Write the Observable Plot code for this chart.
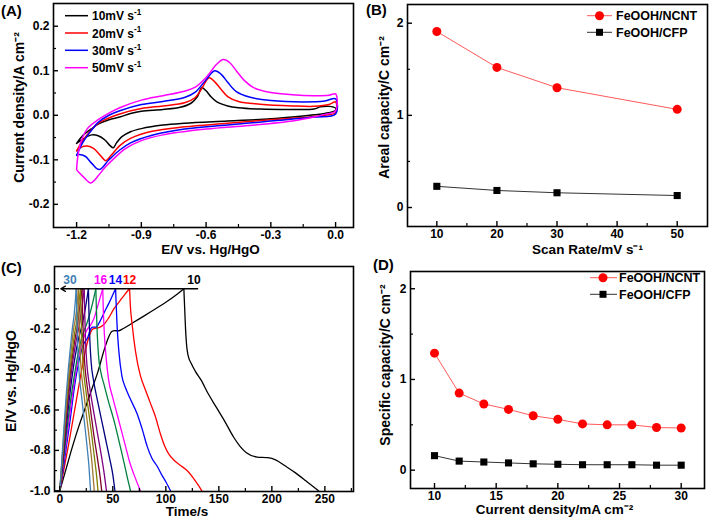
<!DOCTYPE html>
<html><head><meta charset="utf-8">
<script src="https://cdn.jsdelivr.net/npm/d3@7"></script>
<script src="https://cdn.jsdelivr.net/npm/@observablehq/plot@0.6"></script>
<style>
body{margin:0;background:#fff;}
#wrap{position:relative;width:709px;height:522px;overflow:hidden;font-family:"Liberation Sans",Arial,Helvetica,sans-serif;color:#000;}
.panel{position:absolute;}
#overlay{position:absolute;left:0;top:0;pointer-events:none;}
</style></head><body>
<div id="wrap">
  <div class="panel" id="pA" style="left:0;top:0;width:354px;height:261px"></div>
  <div class="panel" id="pB" style="left:354px;top:0;width:355px;height:261px"></div>
  <div class="panel" id="pC" style="left:0;top:261px;width:354px;height:261px"></div>
  <div class="panel" id="pD" style="left:354px;top:261px;width:355px;height:261px"></div>
  <svg id="overlay" width="709" height="522"></svg>
</div>
<script>
// ---------------- DATA ----------------
// (A) CV loops: [E (V), j (A cm-2)], upper (anodic) branch then lower (cathodic) branch
const cv10 = [[-1.2,-0.063],[-1.17,-0.045],[-1.13,-0.03],[-1.1,-0.02],[-1.05,-0.01],[-1.0,-0.004],[-0.95,0.004],[-0.9,0.009],[-0.8,0.013],[-0.72,0.018],[-0.67,0.027],[-0.64,0.042],[-0.62,0.062],[-0.6,0.055],[-0.58,0.043],[-0.55,0.03],[-0.5,0.021],[-0.45,0.017],[-0.35,0.014],[-0.2,0.013],[-0.1,0.014],[-0.07,0.019],[-0.03,0.02],[0,0.016],
  [0,0.011],[-0.05,0.004],[-0.1,0.001],[-0.2,-0.004],[-0.3,-0.008],[-0.5,-0.013],[-0.7,-0.018],[-0.8,-0.022],[-0.9,-0.03],[-0.95,-0.037],[-0.99,-0.048],[-1.015,-0.062],[-1.03,-0.073],[-1.045,-0.068],[-1.07,-0.055],[-1.1,-0.046],[-1.13,-0.044],[-1.16,-0.05],[-1.2,-0.063]];
const cv20 = [[-1.2,-0.08],[-1.17,-0.056],[-1.13,-0.032],[-1.1,-0.018],[-1.05,-0.006],[-1.0,0.003],[-0.9,0.015],[-0.8,0.021],[-0.7,0.028],[-0.65,0.04],[-0.62,0.06],[-0.6,0.077],[-0.585,0.084],[-0.56,0.075],[-0.53,0.058],[-0.5,0.042],[-0.45,0.031],[-0.35,0.025],[-0.2,0.021],[-0.1,0.02],[-0.03,0.024],[0,0.03],
  [0,0.006],[-0.05,0.0],[-0.15,-0.005],[-0.3,-0.01],[-0.5,-0.018],[-0.7,-0.026],[-0.85,-0.036],[-0.95,-0.052],[-1.0,-0.068],[-1.04,-0.09],[-1.065,-0.102],[-1.09,-0.09],[-1.12,-0.075],[-1.15,-0.069],[-1.18,-0.072],[-1.2,-0.08]];
const cv30 = [[-1.2,-0.09],[-1.17,-0.06],[-1.13,-0.033],[-1.1,-0.016],[-1.05,0.0],[-1.0,0.01],[-0.9,0.024],[-0.8,0.031],[-0.7,0.04],[-0.65,0.052],[-0.6,0.08],[-0.56,0.1],[-0.53,0.092],[-0.5,0.074],[-0.46,0.053],[-0.4,0.041],[-0.3,0.033],[-0.15,0.03],[-0.05,0.032],[0,0.037],
  [0,0.003],[-0.1,-0.004],[-0.3,-0.013],[-0.5,-0.022],[-0.7,-0.031],[-0.85,-0.045],[-0.95,-0.062],[-1.0,-0.078],[-1.05,-0.1],[-1.095,-0.122],[-1.13,-0.108],[-1.16,-0.092],[-1.19,-0.088],[-1.2,-0.09]];
const cv50 = [[-1.2,-0.122],[-1.195,-0.095],[-1.18,-0.06],[-1.15,-0.03],[-1.1,-0.01],[-1.05,0.005],[-1.0,0.017],[-0.9,0.034],[-0.8,0.044],[-0.7,0.054],[-0.65,0.063],[-0.6,0.085],[-0.55,0.115],[-0.52,0.125],[-0.49,0.118],[-0.46,0.1],[-0.42,0.077],[-0.38,0.062],[-0.3,0.051],[-0.2,0.046],[-0.1,0.044],[-0.03,0.045],[0,0.048],
  [0,0.01],[-0.05,0.002],[-0.1,-0.004],[-0.2,-0.013],[-0.4,-0.023],[-0.6,-0.031],[-0.8,-0.044],[-0.9,-0.057],[-0.97,-0.074],[-1.02,-0.094],[-1.07,-0.118],[-1.1,-0.136],[-1.135,-0.152],[-1.165,-0.14],[-1.19,-0.128],[-1.2,-0.122]];
const cvRates = ["10", "20", "30", "50"];
const cvColors = ["#000000", "#ff0000", "#0000ff", "#ff00ff"];

// (B) areal capacity vs scan rate
const scanRates = [10, 20, 30, 50];
const arealNCNT = [1.91, 1.52, 1.30, 1.065];
const arealCFP = [0.23, 0.185, 0.16, 0.13];

// (C) galvanostatic charge / discharge curves: [t (s), E (V)]
const chg10 = [[0,-1],[6,-0.89],[12,-0.78],[18,-0.68],[24,-0.59],[30,-0.5],[36,-0.41],[42,-0.3],[46,-0.24],[49,-0.212],[52,-0.207],[55,-0.209],[60,-0.197],[70,-0.165],[80,-0.133],[90,-0.1],[100,-0.067],[110,-0.03],[117,0]];
const dis10 = [[117,0],[117.8,-0.1],[118.6,-0.2],[119.6,-0.28],[121,-0.33],[124,-0.37],[128,-0.41],[133,-0.45],[140,-0.52],[148,-0.59],[156,-0.66],[164,-0.735],[170,-0.78],[176,-0.812],[186,-0.833],[196,-0.836],[204,-0.848],[212,-0.875],[222,-0.91],[232,-0.95],[244,-1.0]];
const chg12 = [[0,-1],[4,-0.89],[8,-0.78],[12,-0.66],[16,-0.54],[20,-0.42],[24,-0.31],[28,-0.23],[31,-0.2],[34,-0.195],[37,-0.193],[41,-0.18],[46,-0.145],[51,-0.1],[56,-0.065],[61,-0.03],[65.8,0]];
const dis12 = [[65.8,0],[66.5,-0.08],[68.3,-0.18],[71.4,-0.31],[76,-0.43],[80,-0.49],[85,-0.56],[90,-0.63],[95,-0.72],[99,-0.78],[103,-0.82],[108,-0.85],[114,-0.875],[120,-0.9],[127,-0.945],[134,-1.0]];
const chg14 = [[0,-1],[3,-0.9],[6,-0.79],[10,-0.64],[14,-0.48],[18,-0.36],[22,-0.28],[26.4,-0.24],[29,-0.2],[31,-0.19],[34,-0.19],[38,-0.16],[42,-0.116],[46,-0.075],[50,-0.03],[52.6,0]];
const dis14 = [[52.6,0],[53.2,-0.08],[54,-0.18],[55.7,-0.31],[58.5,-0.43],[62,-0.49],[66,-0.54],[73,-0.62],[78,-0.7],[82.4,-0.78],[87,-0.84],[92,-0.88],[96,-0.92],[100,-0.955],[104.4,-1]];
const chg16 = [[0,-1],[3,-0.88],[6,-0.76],[10,-0.6],[14,-0.45],[18,-0.33],[22,-0.25],[26,-0.2],[29,-0.18],[32,-0.15],[35,-0.1],[38,-0.045],[40.5,0]];
const dis16 = [[40.5,0],[41,-0.1],[42,-0.22],[43.5,-0.33],[46,-0.45],[50,-0.54],[54,-0.62],[58,-0.7],[62,-0.78],[66,-0.86],[70,-0.92],[76,-1]];
const chg18 = [[0,-1],[3,-0.87],[6,-0.73],[10,-0.56],[14,-0.42],[18,-0.3],[22,-0.22],[25,-0.18],[28,-0.13],[31,-0.07],[34,0]];
const dis18 = [[34,0],[34.5,-0.1],[35.3,-0.22],[36.5,-0.33],[39,-0.42],[41.5,-0.47],[46,-0.56],[51,-0.65],[57,-0.78],[61,-0.87],[63.5,-0.93],[66.7,-1]];
const chg20 = [[0,-1],[3,-0.85],[6,-0.69],[10,-0.5],[14,-0.35],[18,-0.24],[21,-0.18],[24,-0.1],[27,0]];
const dis20 = [[27,0],[27.5,-0.12],[28.3,-0.25],[29.5,-0.36],[32,-0.46],[35,-0.54],[39,-0.64],[43,-0.74],[47,-0.84],[50,-0.92],[52,-1]];
const chg22 = [[0,-1],[3,-0.83],[6,-0.66],[9,-0.5],[12,-0.37],[15,-0.27],[18,-0.19],[21,-0.09],[23,0]];
const dis22 = [[23,0],[23.5,-0.12],[24.3,-0.26],[25.5,-0.37],[28,-0.48],[31,-0.58],[35,-0.7],[39,-0.82],[42,-0.92],[44,-1]];
const chg24 = [[0,-1],[3,-0.82],[6,-0.63],[9,-0.46],[12,-0.33],[15,-0.23],[17,-0.17],[19,-0.08],[21,0]];
const dis24 = [[21,0],[21.5,-0.12],[22.3,-0.26],[23.5,-0.37],[26,-0.49],[29,-0.6],[32,-0.72],[35.5,-0.84],[38,-0.93],[39.5,-1]];
const chg26 = [[0,-1],[3,-0.8],[6,-0.6],[9,-0.43],[12,-0.3],[14,-0.22],[16,-0.16],[18,-0.07],[19.5,0]];
const dis26 = [[19.5,0],[20,-0.12],[20.8,-0.26],[22,-0.38],[24.5,-0.5],[27,-0.6],[30,-0.72],[33,-0.85],[35,-0.94],[36,-1]];
const chg28 = [[0,-1],[3,-0.78],[6,-0.57],[9,-0.39],[11,-0.29],[13,-0.2],[15,-0.14],[16.5,-0.07],[17.5,0]];
const dis28 = [[17.5,0],[18,-0.12],[18.8,-0.27],[20,-0.39],[22.5,-0.51],[25,-0.62],[28,-0.75],[30.5,-0.87],[32.5,-1]];
const chg30 = [[0,-1],[3,-0.76],[6,-0.53],[8,-0.4],[10,-0.29],[12,-0.19],[13.5,-0.13],[14.5,-0.07],[15.5,0]];
const dis30 = [[15.5,0],[16,-0.12],[16.8,-0.27],[18,-0.4],[20.5,-0.53],[23,-0.65],[25.5,-0.77],[27.5,-0.88],[29,-1]];
const gcdCurrents = [10, 12, 14, 16, 18, 20, 22, 24, 26, 28, 30];
const gcdColors = ["#000000", "#ff0000", "#0000ff", "#ff00ff", "#008040", "#000080", "#800080", "#800030", "#808000", "#a07830", "#3f80b5"];
const gcdCharge = [chg10, chg12, chg14, chg16, chg18, chg20, chg22, chg24, chg26, chg28, chg30];
const gcdDischarge = [dis10, dis12, dis14, dis16, dis18, dis20, dis22, dis24, dis26, dis28, dis30];
const gcdLabelText = ["30", "16", "14", "12", "10"];
const gcdLabelT = [9.5, 38.5, 52.5, 65.8, 126.5];
const gcdLabelE = [0.042, 0.042, 0.042, 0.042, 0.042];
const gcdLabelColor = ["#3f80b5", "#ff00ff", "#0000ff", "#ff0000", "#000000"];
const arrowC = [{x1: 130, x2: 1, y: 0}];

// (D) specific capacity vs current density
const currentDensity = [10, 12, 14, 16, 18, 20, 22, 24, 26, 28, 30];
const specNCNT = [1.29, 0.85, 0.73, 0.67, 0.60, 0.56, 0.51, 0.50, 0.50, 0.47, 0.465];
const specCFP = [0.16, 0.10, 0.09, 0.08, 0.07, 0.065, 0.06, 0.06, 0.06, 0.055, 0.055];

// text
const seriesNames = ["FeOOH/NCNT", "FeOOH/CFP"];
const labelsA = {x: "E/V vs. Hg/HgO", y: "Current density/A cm\u207B\u00B2"};
const labelsB = {x: "Scan Rate/mV s\u207B\u00B9", y: "Areal capacity/C cm\u207B\u00B2"};
const labelsC = {x: "Time/s", y: "E/V vs. Hg/HgO"};
const labelsD = {x: "Current density/mA cm\u207B\u00B2", y: "Specific capacity/C cm\u207B\u00B2"};

// ---------------- HELPERS ----------------
const FONT = "'Liberation Sans', Arial, Helvetica, sans-serif";
const f1 = d => (Math.abs(d) < 1e-9 ? 0 : d).toFixed(1);
const f0 = d => String(Math.round(d));

function axesMarks(cfg) {
  const {w, h, m, xMajor, xMinor, yMajor, yMinor, fx, fy, lab, lx, ly, xPad = 2.5, xLabSize = 13.5} = cfg;
  const iw = w - m.l - m.r, ih = h - m.t - m.b;
  return [
    Plot.tickX(xMajor, {x: d => d, insetTop: ih - 5, stroke: "#000", strokeWidth: 1.4}),
    Plot.tickX(xMinor, {x: d => d, insetTop: ih - 3, stroke: "#000", strokeWidth: 1.2}),
    Plot.tickY(yMajor, {y: d => d, insetRight: iw - 5, stroke: "#000", strokeWidth: 1.4}),
    Plot.tickY(yMinor, {y: d => d, insetRight: iw - 3, stroke: "#000", strokeWidth: 1.2}),
    Plot.axisX({ticks: xMajor, tickSize: 0, tickPadding: xPad, tickFormat: fx, fontSize: 12, fontWeight: "bold", label: null}),
    Plot.axisY({ticks: yMajor, tickSize: 0, tickPadding: 4, tickFormat: fy, fontSize: 12, fontWeight: "bold", label: null}),
    Plot.text([lab.x], {frameAnchor: "bottom", text: d => d, textAnchor: "middle", dx: lx[0], dy: lx[1], fontSize: xLabSize, fontWeight: "bold", fill: "#000"}),
    Plot.text([lab.y], {frameAnchor: "left", text: d => d, textAnchor: "middle", rotate: -90, dx: ly[0], dy: ly[1], fontSize: 14, fontWeight: "bold", fill: "#000"}),
    Plot.frame({stroke: "#000", strokeWidth: 1.6})
  ];
}
const style = {fontFamily: FONT, fontSize: "12px", fontWeight: "bold", background: "transparent", color: "#000", overflow: "visible"};

// ---------------- PANEL A ----------------
{
  const w = 354, h = 261, m = {l: 53, r: 1, t: 3, b: 34};
  const loops = [cv10, cv20, cv30, cv50];
  const marks = loops.map((pts, i) => Plot.line(pts, {x: d => d[0], y: d => d[1], stroke: cvColors[i], strokeWidth: 1.5, curve: "catmull-rom"}));
  const chart = Plot.plot({
    width: w, height: h, marginLeft: m.l, marginRight: m.r, marginTop: m.t, marginBottom: m.b,
    style,
    x: {domain: [-1.307, 0.083]},
    y: {domain: [-0.252, 0.251]},
    marks: [
      ...marks,
      ...axesMarks({w, h, m, xMajor: [-1.2, -0.9, -0.6, -0.3, 0], xMinor: [-1.05, -0.75, -0.45, -0.15],
        yMajor: [-0.2, -0.1, 0, 0.1, 0.2], yMinor: [-0.15, -0.05, 0.05, 0.15], fx: f1, fy: f1,
        lab: labelsA, lx: [7, 26.5], ly: [-34, -8]})
    ]
  });
  document.getElementById("pA").append(chart);
}

// ---------------- PANEL B ----------------
{
  const w = 355, h = 261, m = {l: 53, r: 2, t: 4, b: 35};
  const rowsN = scanRates.map((x, i) => ({x, y: arealNCNT[i]}));
  const rowsC = scanRates.map((x, i) => ({x, y: arealCFP[i]}));
  const chart = Plot.plot({
    width: w, height: h, marginLeft: m.l, marginRight: m.r, marginTop: m.t, marginBottom: m.b,
    style,
    x: {domain: [5.12, 55.04]},
    y: {domain: [-0.206, 2.203]},
    marks: [
      Plot.line(rowsN, {x: "x", y: "y", stroke: "#ff5a5a", strokeWidth: 1}),
      Plot.line(rowsC, {x: "x", y: "y", stroke: "#333", strokeWidth: 1}),
      Plot.dot(rowsN, {x: "x", y: "y", fill: "#ff0000", r: 4.5}),
      Plot.dot(rowsC, {x: "x", y: "y", fill: "#000", symbol: "square", r: 4}),
      ...axesMarks({w, h, m, xMajor: [10, 20, 30, 40, 50], xMinor: [15, 25, 35, 45],
        yMajor: [0, 1, 2], yMinor: [0.5, 1.5], fx: f0, fy: f0,
        lab: labelsB, lx: [30, 27.5], ly: [-23, -8]})
    ]
  });
  document.getElementById("pB").append(chart);
}

// ---------------- PANEL C ----------------
{
  const w = 354, h = 261, m = {l: 54, r: 1, t: 5, b: 31};
  const marks = [];
  gcdCurrents.forEach((I, i) => {
    marks.push(Plot.line(gcdCharge[i], {x: d => d[0], y: d => d[1], stroke: gcdColors[i], strokeWidth: 1.3, curve: "monotone-x"}));
    marks.push(Plot.line(gcdDischarge[i], {x: d => d[0], y: d => d[1], stroke: gcdColors[i], strokeWidth: 1.3, curve: "monotone-x"}));
  });
  const lab = gcdLabelText.map((t, i) => ({t: gcdLabelT[i], e: gcdLabelE[i], text: t, c: gcdLabelColor[i]}));
  const chart = Plot.plot({
    width: w, height: h, marginLeft: m.l, marginRight: m.r, marginTop: m.t, marginBottom: m.b,
    style,
    x: {domain: [-5, 277]},
    y: {domain: [-1.0035, 0.11]},
    marks: [
      ...marks,
      Plot.arrow(arrowC, {x1: "x1", x2: "x2", y1: "y", y2: "y", stroke: "#000", strokeWidth: 1.3, headLength: 6}),
      Plot.text(lab, {x: "t", y: "e", text: "text", fill: d => d.c, fontSize: 12, fontWeight: "bold"}),
      ...axesMarks({w, h, m, xMajor: [0, 50, 100, 150, 200, 250], xMinor: [25, 75, 125, 175, 225, 275],
        yMajor: [-1, -0.8, -0.6, -0.4, -0.2, 0], yMinor: [-0.9, -0.7, -0.5, -0.3, -0.1], fx: f0, fy: f1,
        lab: labelsC, lx: [-17, 24.5], ly: [-43, 2]})
    ]
  });
  document.getElementById("pC").append(chart);
}

// ---------------- PANEL D ----------------
{
  const w = 355, h = 261, m = {l: 56, r: 5, t: 10, b: 34};
  const rowsN = currentDensity.map((x, i) => ({x, y: specNCNT[i]}));
  const rowsC = currentDensity.map((x, i) => ({x, y: specCFP[i]}));
  const chart = Plot.plot({
    width: w, height: h, marginLeft: m.l, marginRight: m.r, marginTop: m.t, marginBottom: m.b,
    style,
    x: {domain: [8.054, 31.89]},
    y: {domain: [-0.202, 2.19]},
    marks: [
      Plot.line(rowsN, {x: "x", y: "y", stroke: "#ff5a5a", strokeWidth: 1}),
      Plot.line(rowsC, {x: "x", y: "y", stroke: "#333", strokeWidth: 1}),
      Plot.dot(rowsN, {x: "x", y: "y", fill: "#ff0000", r: 4.5}),
      Plot.dot(rowsC, {x: "x", y: "y", fill: "#000", symbol: "square", r: 4}),
      ...axesMarks({w, h, m, xMajor: [10, 15, 20, 25, 30], xMinor: [12.5, 17.5, 22.5, 27.5],
        yMajor: [0, 1, 2], yMinor: [0.5, 1.5], fx: f0, fy: f0,
        lab: labelsD, lx: [-3, 25.5], ly: [-25, -15]})
    ]
  });
  document.getElementById("pD").append(chart);
}

// ---------------- OVERLAY: panel letters & legends ----------------
const ov = d3.select("#overlay").attr("font-family", FONT).attr("font-weight", "bold");
function supText(x, y, base, sup, size, color) {
  const t = ov.append("text").attr("x", x).attr("y", y).attr("font-size", size).attr("fill", color || "#000");
  t.append("tspan").text(base);
  if (sup) t.append("tspan").attr("dy", -size * 0.42).attr("font-size", size * 0.68).text(sup);
}
[["(A)", 1, 16], ["(B)", 366, 15], ["(C)", 1, 273], ["(D)", 373, 270]].forEach(([t, x, y]) =>
  ov.append("text").attr("x", x).attr("y", y).attr("font-size", 15).text(t));

// legend A
const legAY = [15.7, 33, 50.3, 67.7];
cvRates.forEach((r, i) => {
  ov.append("line").attr("x1", 65).attr("x2", 88).attr("y1", legAY[i]).attr("y2", legAY[i]).attr("stroke", cvColors[i]).attr("stroke-width", 1.5);
  supText(92, legAY[i] + 4.5, `${r}mV s`, "-1", 12);
});
// legends B & D
function legendBD(x0, x1, xm, xt, ys) {
  const lineC = ["#ff5a5a", "#333"];
  ys.forEach((y, i) => {
    ov.append("line").attr("x1", x0).attr("x2", x1).attr("y1", y).attr("y2", y).attr("stroke", lineC[i]).attr("stroke-width", 1);
    if (i === 0) ov.append("circle").attr("cx", xm).attr("cy", y).attr("r", 4.5).attr("fill", "#ff0000");
    else ov.append("rect").attr("x", xm - 3.5).attr("y", y - 3.5).attr("width", 7).attr("height", 7).attr("fill", "#000");
    supText(xt, y + 4.5, seriesNames[i], null, 12.5);
  });
}
legendBD(587, 612, 599.5, 616, [15.7, 32.3]);
legendBD(590, 617, 603, 619, [277.7, 294.3]);
</script>
</body></html>
